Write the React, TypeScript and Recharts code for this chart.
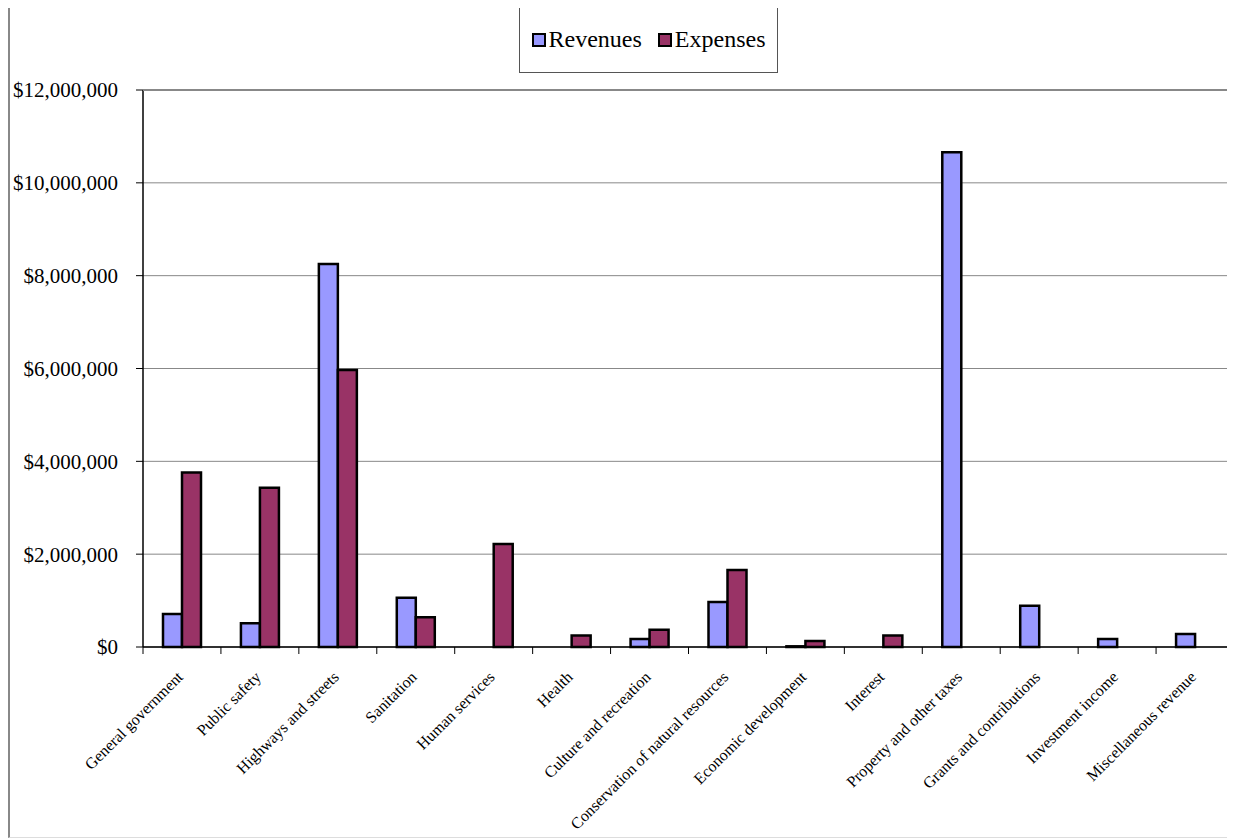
import React from 'react';
import { BarChart, Bar, XAxis, YAxis, CartesianGrid, Legend } from 'recharts';

const categories = [
  'General government',
  'Public safety',
  'Highways and streets',
  'Sanitation',
  'Human services',
  'Health',
  'Culture and recreation',
  'Conservation of natural resources',
  'Economic development',
  'Interest',
  'Property and other taxes',
  'Grants and contributions',
  'Investment income',
  'Miscellaneous revenue',
];

const revenues = [710000, 510000, 8250000, 1060000, 0, 0, 170000, 970000, 15000, 0, 10660000, 890000, 170000, 280000];
const expenses = [3760000, 3430000, 5970000, 640000, 2220000, 250000, 370000, 1660000, 130000, 250000, 0, 0, 0, 0];

const yTicks = [0, 2000000, 4000000, 6000000, 8000000, 10000000, 12000000];

const data = categories.map((name, i) => ({ name, revenues: revenues[i], expenses: expenses[i] }));

const SERIF = '"Liberation Serif", "Times New Roman", serif';
const W = 1226;
const H = 834;
const PLOT_LEFT = 135;
const PLOT_TOP = 86;
const HALF_BAND = (W - PLOT_LEFT) / categories.length / 2;

const formatMoney = (v: number) => '$' + v.toLocaleString('en-US');

const CategoryTick = (props: any) => {
  const { x, y, payload } = props;
  const axisY = y - 8;
  const tx = x + 2;
  const ty = axisY + 31;
  return (
    <g>
      <line x1={x - HALF_BAND} y1={axisY} x2={x - HALF_BAND} y2={axisY + 7} stroke="#000" strokeWidth={1} />
      <text
        x={tx}
        y={ty}
        transform={`rotate(-45 ${tx} ${ty})`}
        textAnchor="end"
        fontFamily={SERIF}
        fontSize={16}
        fill="#000"
      >
        {payload.value}
      </text>
    </g>
  );
};

const LegendBox = () => {
  const items = [
    { label: 'Revenues', color: '#9999FF' },
    { label: 'Expenses', color: '#993366' },
  ];
  return (
    <div
      style={{
        width: 257,
        height: 65,
        border: '1px solid #555',
        background: '#fff',
        display: 'flex',
        alignItems: 'center',
        justifyContent: 'center',
        fontFamily: SERIF,
        fontSize: 24,
        color: '#000',
      }}
    >
      {items.map((it, i) => (
        <span key={it.label} style={{ display: 'flex', alignItems: 'center', marginLeft: i ? 16 : 0 }}>
          <span
            style={{
              display: 'inline-block',
              width: 10,
              height: 10,
              background: it.color,
              border: '2px solid #000',
              marginRight: 3,
            }}
          />
          {it.label}
        </span>
      ))}
    </div>
  );
};

export default function App() {
  return (
    <div style={{ position: 'relative', width: W, height: H, marginTop: -4, background: '#fff' }}>
      <BarChart
        width={W}
        height={H}
        data={data}
        barSize={19}
        barGap={0}
        margin={{ top: PLOT_TOP, right: 0, left: 0, bottom: 0 }}
      >
        <CartesianGrid vertical={false} stroke="#888" strokeWidth={1} />
        <XAxis
          dataKey="name"
          interval={0}
          tickLine={false}
          axisLine={{ stroke: '#000', strokeWidth: 1.5 }}
          tick={<CategoryTick />}
          height={191}
          tickSize={0}
          tickMargin={8}
        />
        <YAxis
          domain={[0, 12000000]}
          ticks={yTicks}
          width={PLOT_LEFT}
          tickFormatter={formatMoney}
          tick={{ fontFamily: SERIF, fontSize: 21, fill: '#000' }}
          tickLine={{ stroke: '#000' }}
          tickSize={7}
          tickMargin={18}
          axisLine={{ stroke: '#000', strokeWidth: 1.5 }}
        />
        <Legend
          verticalAlign="middle"
          align="center"
          layout="horizontal"
          content={<LegendBox />}
          wrapperStyle={{ top: 2, left: 511, width: 259, height: 67 }}
        />
        <Bar dataKey="revenues" fill="#9999FF" stroke="#000" strokeWidth={2.5} isAnimationActive={false} />
        <Bar dataKey="expenses" fill="#993366" stroke="#000" strokeWidth={2.5} isAnimationActive={false} />
      </BarChart>
      <div
        style={{
          position: 'absolute',
          left: 0,
          top: 0,
          width: W - 2,
          height: H - 2,
          borderTop: '1px solid #000',
          borderLeft: '2px solid #888',
          borderRight: '1px solid #888',
          borderBottom: '1px solid #ddd',
          pointerEvents: 'none',
        }}
      />
      <div
        style={{
          position: 'absolute',
          left: PLOT_LEFT,
          top: PLOT_TOP - 1,
          width: W - PLOT_LEFT,
          borderTop: '2px solid #888',
          pointerEvents: 'none',
        }}
      />
    </div>
  );
}
